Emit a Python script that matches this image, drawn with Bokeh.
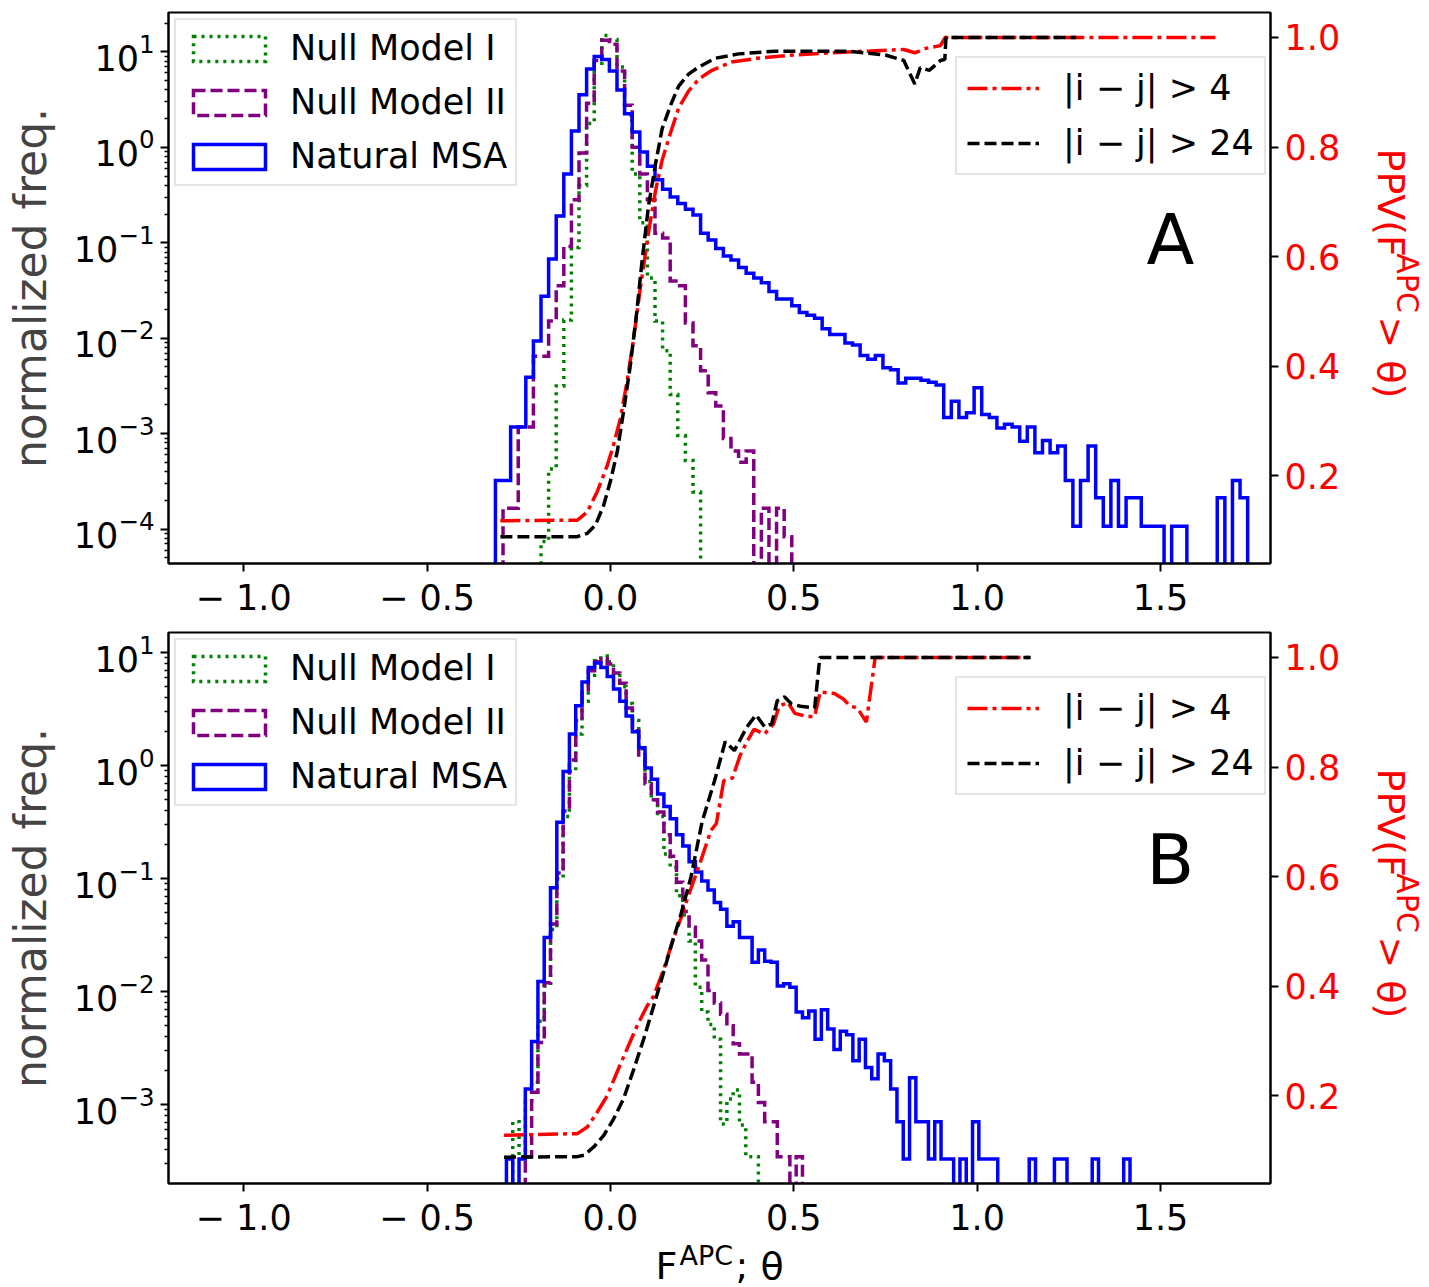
import numpy as np
from bokeh.plotting import figure
from bokeh.layouts import column, row
from bokeh.models import (Range1d, LinearAxis, LinearScale, FixedTicker, Legend, LegendItem,
                          Label, ColumnDataSource)
from bokeh.embed import file_html
from bokeh.resources import INLINE

FONT = "DejaVu Sans"

# ---------------- data (log10 of normalized frequency per bin; None = empty bin) -------------
# Panel A : 99 common bins from A_BIN_LO to A_BIN_HI
A_BIN_LO, A_BIN_HI = -0.3135, 1.7377
A_natural = [-3.49, -3.49, -2.93, -2.93, -2.41, -2.03, -1.56, -1.17, -0.72, -0.28,
             0.17, 0.55, 0.82, 0.95, 0.92, 0.80, 0.60, 0.35, 0.16, -0.05,
             -0.20, -0.34, -0.44, -0.52, -0.59, -0.65, -0.71, -0.90, -0.97, -1.06,
             -1.14, -1.18, -1.26, -1.32, -1.37, -1.42, -1.51, -1.59, -1.59, -1.66,
             -1.73, -1.76, -1.79, -1.90, -1.96, -1.96, -2.05, -2.07, -2.18, -2.22,
             -2.18, -2.31, -2.33, -2.47, -2.42, -2.42, -2.44, -2.46, -2.49, -2.83,
             -2.66, -2.83, -2.78, -2.52, -2.80, -2.83, -2.94, -2.90, -2.93, -3.08,
             -2.93, -3.20, -3.07, -3.20, -3.13, -3.49, -3.97, -3.49, -3.13, -3.67,
             -3.97, -3.49, -3.97, -3.67, -3.67, -3.97, -3.97, -3.97, None, -3.97,
             -3.97, None, None, None, None, -3.67, None, -3.49, -3.67]
A_null1 = [None, None, None, None, None, None, -4.13, -3.37, -2.50, -1.81,
           -1.05, -0.40, 0.25, 0.88, 1.17, 1.13, 0.84, 0.34, -0.28, -0.79,
           -1.37, -1.82, -2.13, -2.59, -3.02, -3.28, -3.61]
A_null2 = [None, -3.78, -3.78, -2.93, -2.93, -2.19, -2.19, -1.82, -1.45, -1.04,
           -0.55, -0.06, 0.46, 0.91, 1.12, 1.08, 0.80, 0.44, 0.00, -0.28,
           -0.55, -0.90, -0.95, -1.40, -1.45, -1.84, -2.08, -2.34, -2.57, -2.71,
           -3.05, -3.18, -3.30, -3.18, None, -3.78, None, -3.78, -4.08]
A_ppv4_theta = [-0.30, -0.09, -0.063, -0.036, -0.009, 0.008, 0.027, 0.045, 0.063, 0.081,
                0.104, 0.123, 0.141, 0.164, 0.186, 0.213, 0.241, 0.277, 0.33, 0.40,
                0.50, 0.60, 0.70, 0.80, 0.83, 0.86, 0.90, 0.913, 1.65]
A_ppv4 = [0.118, 0.119, 0.134, 0.171, 0.218, 0.255, 0.304, 0.37, 0.449, 0.54,
          0.644, 0.72, 0.776, 0.826, 0.871, 0.902, 0.924, 0.94, 0.955, 0.962,
          0.968, 0.972, 0.975, 0.978, 0.972, 0.98, 0.985, 1.0, 1.0]
A_ppv24_theta = [-0.30, -0.09, -0.063, -0.041, -0.019, 0.0, 0.019, 0.036, 0.054, 0.072,
                 0.086, 0.104, 0.123, 0.141, 0.164, 0.186, 0.213, 0.241, 0.286, 0.35,
                 0.45, 0.55, 0.65, 0.75, 0.80, 0.83, 0.845, 0.87, 0.90, 0.912,
                 0.915, 1.27]
A_ppv24 = [0.089, 0.089, 0.095, 0.11, 0.145, 0.19, 0.245, 0.318, 0.40, 0.50,
           0.59, 0.693, 0.769, 0.833, 0.876, 0.911, 0.933, 0.946, 0.962, 0.97,
           0.975, 0.975, 0.975, 0.968, 0.958, 0.915, 0.945, 0.94, 0.958, 0.96,
           1.0, 1.0]

# Panel B : 99 common bins from B_BIN_LO to B_BIN_HI
B_BIN_LO, B_BIN_HI = -0.2835, 1.4169
B_natural = [-3.48, None, -3.48, -2.86, -2.44, -1.91, -1.52, -1.08, -0.50, -0.05,
             0.28, 0.53, 0.74, 0.87, 0.91, 0.87, 0.79, 0.68, 0.57, 0.44,
             0.30, 0.16, -0.02, -0.12, -0.25, -0.36, -0.47, -0.61, -0.71, -0.85,
             -0.94, -1.02, -1.10, -1.21, -1.27, -1.42, -1.38, -1.52, -1.52, -1.74,
             -1.63, -1.73, -1.74, -1.95, -1.93, -1.96, -2.18, -2.23, -2.17, -2.42,
             -2.16, -2.33, -2.51, -2.35, -2.38, -2.61, -2.42, -2.67, -2.77, -2.55,
             -2.61, -2.86, -3.15, -3.48, -2.76, -3.15, -3.15, -3.48, -3.15, -3.48,
             -3.48, None, -3.48, None, -3.15, -3.48, -3.48, -3.48, None, None,
             None, None, None, -3.48, None, None, None, -3.48, -3.48, None,
             None, None, None, -3.48, None, None, None, None, -3.48]
B_null1 = [None, -3.15, -3.46, -2.98, -2.80, -2.26, -1.95, -1.45, -1.00, -0.45,
           -0.05, 0.28, 0.57, 0.80, 0.93, 0.97, 0.92, 0.82, 0.70, 0.55,
           0.40, 0.15, -0.14, -0.30, -0.45, -0.78, -0.90, -1.15, -1.32, -1.55,
           -1.96, -2.18, -2.29, -2.42, -3.17, -2.95, -2.87, -3.18, -3.46, -3.46]
B_null2 = [None, None, None, -3.46, -2.89, -2.45, -1.92, -1.40, -0.95, -0.40,
           0.05, 0.40, 0.65, 0.84, 0.92, 0.95, 0.90, 0.82, 0.73, 0.51,
           0.31, 0.08, -0.16, -0.30, -0.41, -0.61, -0.80, -1.03, -1.29, -1.43,
           -1.55, -1.72, -1.99, -2.10, -2.20, -2.30, -2.46, -2.55, -2.55, -2.80,
           -2.98, -3.15, -3.15, -3.46, -3.46, None, -3.46]
B_ppv4_theta = [-0.29, -0.09, -0.063, -0.036, -0.009, 0.018, 0.045, 0.073, 0.100, 0.118,
                0.145, 0.168, 0.191, 0.209, 0.245, 0.274, 0.289, 0.309, 0.333, 0.353,
                0.372, 0.392, 0.42, 0.445, 0.460, 0.484, 0.503, 0.537, 0.557, 0.572,
                0.611, 0.635, 0.654, 0.673, 0.698, 0.722, 1.146]
B_ppv4 = [0.128, 0.131, 0.143, 0.170, 0.20, 0.243, 0.285, 0.328, 0.364, 0.382,
          0.43, 0.479, 0.522, 0.558, 0.626, 0.684, 0.697, 0.775, 0.78, 0.82,
          0.846, 0.869, 0.86, 0.879, 0.911, 0.918, 0.898, 0.892, 0.892, 0.937,
          0.934, 0.924, 0.911, 0.908, 0.882, 1.0, 1.0]
B_ppv24_theta = [-0.29, -0.09, -0.072, -0.045, -0.018, 0.009, 0.036, 0.064, 0.091, 0.118,
                 0.145, 0.168, 0.191, 0.22, 0.25, 0.284, 0.313, 0.338, 0.372, 0.397,
                 0.421, 0.440, 0.455, 0.475, 0.494, 0.518, 0.557, 0.571, 1.146]
B_ppv24 = [0.088, 0.089, 0.0915, 0.107, 0.128, 0.158, 0.195, 0.249, 0.304, 0.364,
           0.425, 0.479, 0.528, 0.60, 0.70, 0.775, 0.846, 0.83, 0.873, 0.895,
           0.873, 0.879, 0.921, 0.928, 0.915, 0.911, 0.908, 1.0, 1.0]

# axes
X_RANGE = (-1.205, 1.80)
PPV_RANGE = (0.04, 1.0455)
A_LOG_RANGE = (4.37e-5, 25.8)
B_LOG_RANGE = (2.01e-4, 15.1)
X_TICKS = [-1.0, -0.5, 0.0, 0.5, 1.0, 1.5]
X_TICK_LABELS = ["− 1.0", "− 0.5", "0.0", "0.5", "1.0", "1.5"]
PPV_TICKS = [0.2, 0.4, 0.6, 0.8, 1.0]
PPV_TICK_LABELS = ["0.2", "0.4", "0.6", "0.8", "1.0"]
LOG_TICKS = [10.0 ** e for e in range(-5, 2)]
LOG_MINOR = [k * 10.0 ** e for e in range(-5, 2) for k in range(2, 10)]
HIST_LABELS = ["Null Model I", "Null Model II", "Natural MSA"]
PPV_LABELS = ["|i − j| > 4", "|i − j| > 24"]

LW = 3.5
MAIN_W, SIDE_W, ROW_H, XLAB_H = 1350, 79, 620, 47


def outline(lo, hi, nbins, logvals, floor=1e-9):
    edges = np.linspace(lo, hi, nbins + 1)
    xs, ys = [edges[0]], [floor]
    for i, v in enumerate(logvals):
        y = floor if v is None else 10.0 ** v
        xs += [edges[i], edges[i + 1]]
        ys += [y, y]
    xs.append(edges[len(logvals)])
    ys.append(floor)
    return xs, ys


def style_axis(ax, label_color="black"):
    ax.axis_line_color = "black"
    ax.axis_line_width = 2
    ax.major_tick_line_color = "black"
    ax.major_tick_line_width = 2
    ax.major_tick_out = 8
    ax.major_tick_in = 0
    ax.minor_tick_line_color = "black"
    ax.minor_tick_line_width = 1.5
    ax.minor_tick_out = 4
    ax.minor_tick_in = 0
    ax.major_label_text_font = FONT
    ax.major_label_text_font_size = "35px"
    ax.major_label_text_color = label_color
    ax.major_label_standoff = 6


def blank(width, height):
    f = figure(width=width, height=height, x_range=Range1d(0, width),
               y_range=Range1d(height, 0), x_axis_location=None, y_axis_location=None,
               output_backend="svg", toolbar_location=None,
               min_border_left=0, min_border_right=0, min_border_top=0, min_border_bottom=0)
    f.xgrid.visible = False
    f.ygrid.visible = False
    f.outline_line_color = None
    f.background_fill_color = "white"
    f.border_fill_color = "white"
    return f


def side_label():
    # right-hand axis title  PPV(F^APC > θ), rotated, red
    s = blank(SIDE_W, ROW_H)
    for txt, xx, yy, size in [("PPV(F", 40, 153, "38px"),
                              ("APC", 57, 271, "30px"),
                              ("> θ)", 40, 342, "38px")]:
        s.add_layout(Label(x=xx, y=yy, text=txt, angle=-np.pi / 2,
                           text_font=FONT, text_font_size=size, text_color="red",
                           text_align="left", text_baseline="middle"))
    return s


def make_panel(letter, ylog, lo, hi, nat, n1, n2, t4, v4, t24, v24):
    p = figure(width=MAIN_W, height=ROW_H, x_range=Range1d(*X_RANGE),
               y_range=Range1d(*ylog), y_axis_type="log",
               output_backend="svg", toolbar_location=None,
               min_border_left=168, min_border_right=MAIN_W - 168 - 1102,
               min_border_top=12, min_border_bottom=ROW_H - 12 - 553)
    p.extra_y_ranges = {"ppv": Range1d(*PPV_RANGE)}
    p.extra_y_scales = {"ppv": LinearScale()}
    p.xgrid.visible = False
    p.ygrid.visible = False
    p.outline_line_color = "black"
    p.outline_line_width = 2
    p.outline_line_alpha = 1.0
    p.background_fill_color = "white"
    p.border_fill_color = "white"

    xa = p.xaxis[0]
    xa.ticker = FixedTicker(ticks=X_TICKS, minor_ticks=[])
    xa.major_label_overrides = dict(zip(X_TICKS, X_TICK_LABELS))
    style_axis(xa)

    ya = p.yaxis[0]
    ya.ticker = FixedTicker(ticks=LOG_TICKS, minor_ticks=LOG_MINOR)
    style_axis(ya)
    ya.axis_label = "normalized freq."
    ya.axis_label_text_font = FONT
    ya.axis_label_text_font_size = "44px"
    ya.axis_label_text_font_style = "normal"
    ya.axis_label_standoff = 15

    ra = LinearAxis(y_range_name="ppv", ticker=FixedTicker(ticks=PPV_TICKS, minor_ticks=[]))
    ra.major_label_overrides = dict(zip(PPV_TICKS, PPV_TICK_LABELS))
    style_axis(ra, label_color="red")
    p.add_layout(ra, "right")

    n = len(nat)
    styles = [(n1, "green", "3 5"), (n2, "purple", "12 5"), (nat, "blue", "solid")]
    proxies = []
    for vals, color, dash in styles:
        xs, ys = outline(lo, hi, n, vals)
        p.line(xs, ys, line_color=color, line_width=LW, line_dash=dash, line_join="miter")
        src = ColumnDataSource(dict(l=[np.nan], r=[np.nan], t=[np.nan], b=[np.nan]))
        proxies.append(p.quad(left="l", right="r", top="t", bottom="b", source=src,
                              fill_color=None, line_color=color, line_width=LW,
                              line_dash=dash, line_join="miter"))

    r4 = p.line(t4, v4, y_range_name="ppv", line_color="red", line_width=LW,
                line_dash="20 5 4 5")
    r24 = p.line(t24, v24, y_range_name="ppv", line_color="black", line_width=LW,
                 line_dash="12 5")

    leg1 = Legend(items=[LegendItem(label=l, renderers=[r]) for l, r in zip(HIST_LABELS, proxies)],
                  location="top_left")
    leg2 = Legend(items=[LegendItem(label=PPV_LABELS[0], renderers=[r4]),
                         LegendItem(label=PPV_LABELS[1], renderers=[r24])],
                  location=(787, 388))
    for lg in (leg1, leg2):
        lg.label_text_font = FONT
        lg.label_text_font_size = "35px"
        lg.label_text_color = "black"
        lg.border_line_color = "#cccccc"
        lg.border_line_width = 2
        lg.background_fill_color = "white"
        lg.background_fill_alpha = 0.85
    leg1.glyph_width = 90
    leg1.glyph_height = 31
    leg1.label_height = 38
    leg1.label_standoff = 16
    leg1.spacing = 14
    leg1.padding = 8
    leg1.margin = 6
    leg2.glyph_width = 72
    leg2.glyph_height = 30
    leg2.label_height = 40
    leg2.label_standoff = 24
    leg2.spacing = 15
    leg2.padding = 10
    leg2.margin = 0
    p.add_layout(leg1)
    p.add_layout(leg2)

    p.add_layout(Label(x=1.527, y=0.631, y_range_name="ppv", text=letter,
                       text_font=FONT, text_font_size="70px", text_align="center",
                       text_baseline="middle", text_color="black"))
    return p


pA = make_panel("A", A_LOG_RANGE, A_BIN_LO, A_BIN_HI,
                A_natural, A_null1, A_null2, A_ppv4_theta, A_ppv4,
                A_ppv24_theta, A_ppv24)
pB = make_panel("B", B_LOG_RANGE, B_BIN_LO, B_BIN_HI,
                B_natural, B_null1, B_null2, B_ppv4_theta, B_ppv4,
                B_ppv24_theta, B_ppv24)

# x-axis title  F^APC; θ
xl = blank(MAIN_W + SIDE_W, XLAB_H)
for txt, xx, yy, size in [("F", 655, 25, "38px"),
                          ("APC", 679, 15, "27px"),
                          ("; θ", 735, 25, "38px")]:
    xl.add_layout(Label(x=xx, y=yy, text=txt, text_font=FONT, text_font_size=size,
                        text_color="black", text_align="left", text_baseline="middle"))

layout = column(row(pA, side_label()), row(pB, side_label()), xl)
open("out.html", "w").write(file_html(layout, INLINE, title="APC distributions"))
